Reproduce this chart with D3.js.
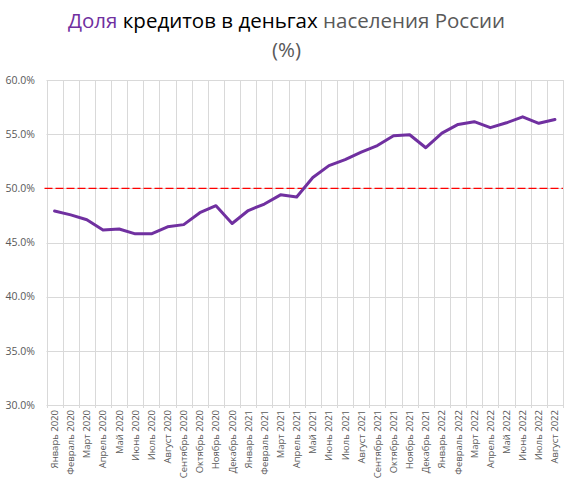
<!DOCTYPE html>
<html>
<head>
<meta charset="utf-8">
<script src="https://cdn.jsdelivr.net/npm/d3@7"></script>
<style>
  body { margin: 0; background: #fff; }
  svg { font-family: "Open Sans", "DejaVu Sans", sans-serif; }
</style>
</head>
<body>
<div id="chart"></div>
<script>
// months on the x axis
const months = [
  "Январь 2020", "Февраль 2020", "Март 2020", "Апрель 2020", "Май 2020", "Июнь 2020",
  "Июль 2020", "Август 2020", "Сентябрь 2020", "Октябрь 2020", "Ноябрь 2020", "Декабрь 2020",
  "Январь 2021", "Февраль 2021", "Март 2021", "Апрель 2021", "Май 2021", "Июнь 2021",
  "Июль 2021", "Август 2021", "Сентябрь 2021", "Октябрь 2021", "Ноябрь 2021", "Декабрь 2021",
  "Январь 2022", "Февраль 2022", "Март 2022", "Апрель 2022", "Май 2022", "Июнь 2022",
  "Июль 2022", "Август 2022"
];
// share of credits, percent
const shares = [
  47.9, 47.55, 47.1, 46.15, 46.25, 45.8, 45.8, 46.45, 46.65, 47.75, 48.4, 46.75,
  47.95, 48.55, 49.4, 49.2, 51.0, 52.1, 52.65, 53.35, 53.95, 54.85, 54.95, 53.75,
  55.1, 55.9, 56.15, 55.6, 56.05, 56.6, 56.0, 56.35
];
const yTicks = [30, 35, 40, 45, 50, 55, 60];
const threshold = [50];

const width = 573, height = 485;
const margin = { top: 80, right: 10, bottom: 80, left: 46.5 };

const svg = d3.select("#chart").append("svg")
  .attr("width", width)
  .attr("height", height);

// title, three colours in one line
const title = svg.append("text")
  .attr("x", width / 2)
  .attr("y", 28)
  .attr("text-anchor", "middle")
  .attr("font-size", 20.5);
title.append("tspan").attr("fill", "#7030a0").text("Доля");
title.append("tspan").attr("fill", "#000").text(" кредитов в деньгах");
title.append("tspan").attr("fill", "#595959").text(" населения России");
svg.append("text")
  .attr("x", width / 2)
  .attr("y", 57)
  .attr("text-anchor", "middle")
  .attr("font-size", 20.5)
  .attr("fill", "#595959")
  .text("(%)");

const x = d3.scaleBand()
  .domain(months)
  .range([margin.left, 563]);

const y = d3.scaleLinear()
  .domain([30, 60])
  .range([405, margin.top]);

// horizontal grid
svg.append("g")
  .selectAll("line")
  .data(yTicks)
  .join("line")
  .attr("x1", margin.left)
  .attr("x2", 563)
  .attr("y1", d => Math.round(y(d)) + 0.5)
  .attr("y2", d => Math.round(y(d)) + 0.5)
  .attr("stroke", "#d9d9d9")
  .attr("stroke-width", 1);

// vertical grid on category boundaries
const bounds = months.map(m => x(m)).concat([x.range()[1]]);
svg.append("g")
  .selectAll("line")
  .data(bounds)
  .join("line")
  .attr("x1", d => Math.round(d) + 0.5)
  .attr("x2", d => Math.round(d) + 0.5)
  .attr("y1", y(60))
  .attr("y2", y(30) + 3)
  .attr("stroke", "#d9d9d9")
  .attr("stroke-width", 1);

// y labels
svg.append("g")
  .selectAll("text")
  .data(yTicks)
  .join("text")
  .attr("x", 35)
  .attr("y", d => y(d))
  .attr("dy", "0.35em")
  .attr("text-anchor", "end")
  .attr("font-size", 10.5)
  .attr("fill", "#595959")
  .text(d => d3.format(".1f")(d) + "%");

// x labels, rotated
svg.append("g")
  .selectAll("text")
  .data(months)
  .join("text")
  .attr("transform", d => "translate(" + (x(d) + x.bandwidth() / 2 + 3.5) + "," + 410 + ") rotate(-90)")
  .attr("text-anchor", "end")
  .attr("font-size", 9.5)
  .attr("fill", "#595959")
  .text(d => d);

// 50% reference line
svg.append("g")
  .selectAll("line")
  .data(threshold)
  .join("line")
  .attr("x1", margin.left - 2)
  .attr("x2", 563)
  .attr("y1", d => y(d))
  .attr("y2", d => y(d))
  .attr("stroke", "#ff0000")
  .attr("stroke-width", 1.2)
  .attr("stroke-dasharray", "8,3");

// series line
const line = d3.line()
  .x((d, i) => x(months[i]) + x.bandwidth() / 2)
  .y(d => y(d));

svg.append("path")
  .datum(shares)
  .attr("d", line)
  .attr("fill", "none")
  .attr("stroke", "#7030a0")
  .attr("stroke-width", 3)
  .attr("stroke-linejoin", "round")
  .attr("stroke-linecap", "round");
</script>
</body>
</html>
